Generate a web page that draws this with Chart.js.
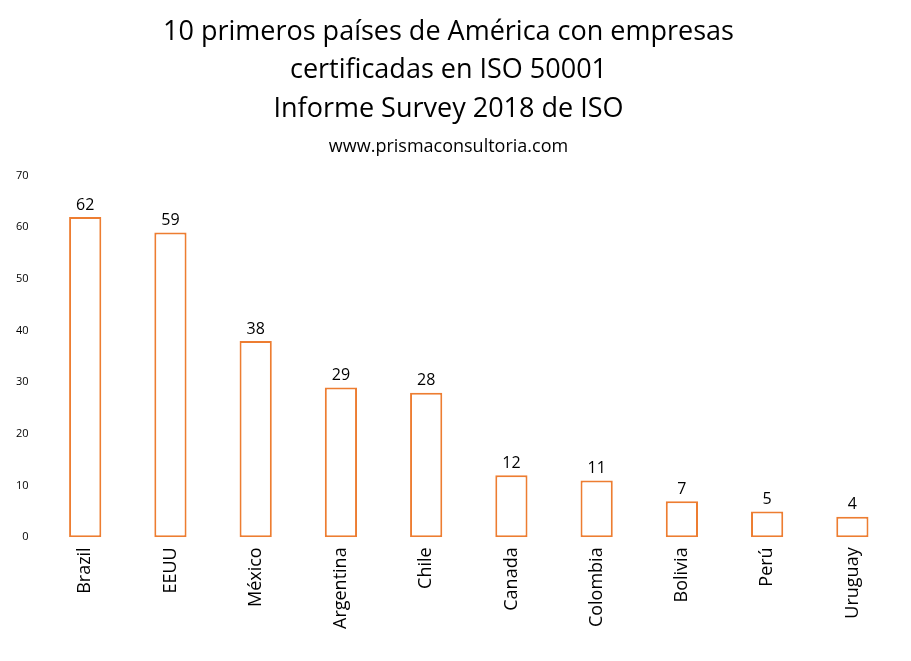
<!DOCTYPE html>
<html><head><meta charset="utf-8">
<script src="https://cdn.jsdelivr.net/npm/chart.js@4"></script>
<style>body{margin:0;background:#fff}#wrap{width:911px;height:661px}</style>
</head><body><div id="wrap"><canvas id="c"></canvas></div>
<script>
const countries = ['Brazil','EEUU','México','Argentina','Chile','Canada','Colombia','Bolivia','Perú','Uruguay'];
const companies = [62,59,38,29,28,12,11,7,5,4];
const yTicks = [0,10,20,30,40,50,60,70];

const valueLabels = {
    id: 'valueLabels',
    afterDatasetsDraw(chart) {
        const ctx = chart.ctx;
        const meta = chart.getDatasetMeta(0);
        ctx.save();
        ctx.font = '16px "Open Sans"';
        ctx.fillStyle = '#000';
        ctx.textAlign = 'center';
        ctx.textBaseline = 'bottom';
        meta.data.forEach((bar, i) => {
            ctx.fillText(companies[i], bar.x, bar.y - 4);
        });
        ctx.restore();
    }
};

new Chart(document.getElementById('c'), {
    type: 'bar',
    data: {
        labels: countries,
        datasets: [{
            data: companies,
            backgroundColor: '#fff',
            borderColor: '#ED7D31',
            borderWidth: 2,
            borderSkipped: false,
            barPercentage: 0.42,
            categoryPercentage: 0.9
        }]
    },
    options: {
        responsive: true,
        maintainAspectRatio: false,
        animation: false,
        layout: { padding: { left: 2, right: 16, top: 13, bottom: 22 } },
        plugins: {
            legend: { display: false },
            tooltip: { enabled: false },
            title: {
                display: true,
                text: ['10 primeros países de América con empresas', 'certificadas en ISO 50001', 'Informe Survey 2018 de ISO'],
                color: '#000',
                font: { family: '"Open Sans"', size: 27, weight: 'normal', lineHeight: 1.42 },
                padding: { top: 0, bottom: 8 }
            },
            subtitle: {
                display: true,
                text: 'www.prismaconsultoria.com',
                color: '#000',
                font: { family: '"Open Sans"', size: 18, weight: 'normal' },
                padding: { top: 0, bottom: 18 }
            }
        },
        scales: {
            x: {
                grid: { display: false, drawTicks: false },
                border: { display: false },
                ticks: { color: '#000', font: { family: '"Open Sans"', size: 18 }, minRotation: 90, maxRotation: 90, padding: 10 }
            },
            y: {
                min: 0, max: 70,
                afterBuildTicks: axis => { axis.ticks = yTicks.map(v => ({ value: v })); },
                grid: { display: false, drawTicks: false },
                border: { display: false },
                ticks: { color: '#000', font: { family: '"Open Sans"', size: 11 }, padding: 14 }
            }
        }
    },
    plugins: [valueLabels]
});
</script></body></html>
